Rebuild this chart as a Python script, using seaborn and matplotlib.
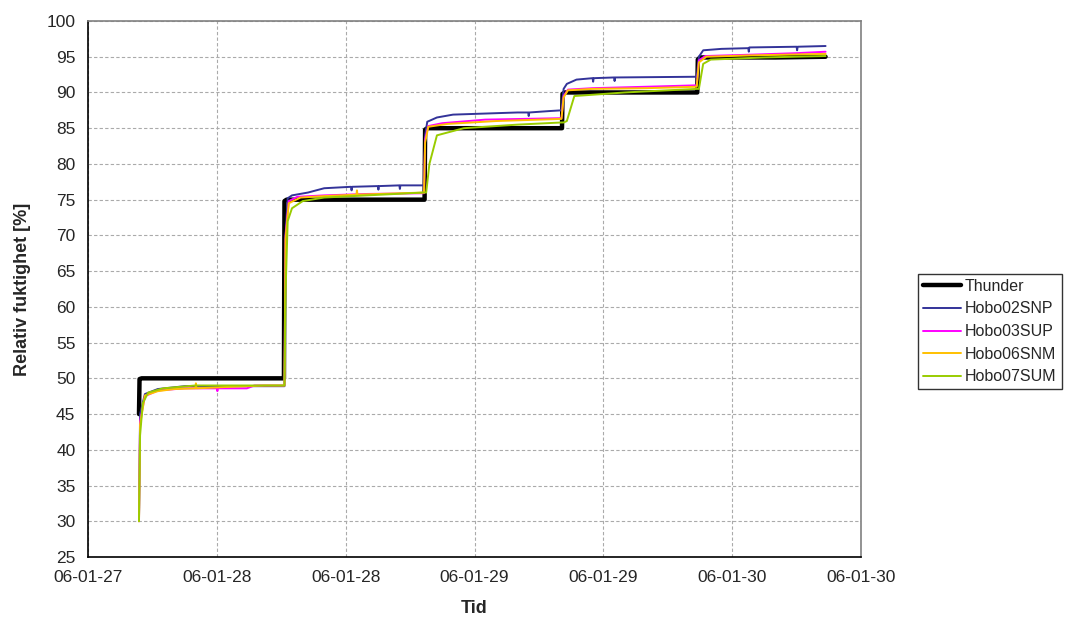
import numpy as np
import pandas as pd
import matplotlib
matplotlib.use('Agg')
import matplotlib.pyplot as plt
import seaborn as sns

# time in hours from 06-01-27 00:00
tick_hours = [0, 12, 24, 36, 48, 60, 72]
tick_labels = ['06-01-27', '06-01-28', '06-01-28', '06-01-29', '06-01-29', '06-01-30', '06-01-30']

thunder_t = [4.75, 4.8, 5.0, 18.25, 18.3, 18.5, 31.35, 31.4, 31.6, 44.15, 44.2, 44.4, 56.75, 56.8, 57.0, 64.0, 68.7]
thunder_v = [45.0, 49.9, 50.0, 50.0, 74.8, 75.0, 75.0, 84.8, 85.0, 85.0, 89.8, 90.0, 90.0, 94.6, 94.9, 94.9, 95.0]

hobo02_t = [4.75, 4.85, 5.3, 6.5, 9.0, 18.3, 18.4, 18.6, 19.0, 20.5, 22.0, 24.5, 24.55, 24.6, 27.0, 27.05, 27.1,
            29.0, 29.05, 29.1, 31.3, 31.4, 31.6, 32.5, 34.0, 36.0, 40.0, 41.0, 41.05, 41.1, 43.0, 44.1, 44.3, 44.6,
            45.5, 47.0, 47.05, 47.1, 49.0, 49.05, 49.1, 56.7, 56.9, 57.3, 59.0, 61.5, 61.55, 61.6, 66.0, 66.05, 66.1, 68.7]
hobo02_v = [30.5, 45.0, 47.8, 48.5, 48.9, 48.9, 70.0, 75.2, 75.6, 76.0, 76.6, 76.8, 76.3, 76.8, 76.9, 76.4, 76.9,
            77.0, 76.5, 77.0, 77.0, 84.0, 85.9, 86.5, 86.9, 87.0, 87.2, 87.2, 86.7, 87.2, 87.4, 87.5, 90.5, 91.2,
            91.8, 92.0, 91.5, 92.0, 92.1, 91.6, 92.1, 92.2, 95.0, 95.9, 96.1, 96.2, 95.7, 96.3, 96.4, 95.9, 96.4, 96.5]

hobo03_t = [4.75, 4.85, 5.3, 6.5, 9.0, 12.0, 12.05, 12.1, 14.8, 15.5, 18.3, 18.4, 18.7, 19.5, 22.0, 26.0, 31.3,
            31.4, 31.7, 33.0, 37.0, 44.1, 44.3, 44.7, 47.0, 52.0, 56.7, 56.9, 57.5, 62.0, 66.0, 68.7]
hobo03_v = [30.0, 44.0, 47.5, 48.3, 48.6, 48.6, 48.2, 48.6, 48.6, 49.0, 49.0, 70.0, 74.8, 75.4, 75.6, 75.8, 75.9,
            83.5, 85.3, 85.7, 86.2, 86.4, 89.5, 90.4, 90.6, 90.8, 91.0, 94.5, 95.1, 95.3, 95.5, 95.7]

hobo06_t = [4.75, 4.85, 5.3, 6.5, 8.0, 10.0, 10.05, 10.1, 13.0, 16.5, 18.3, 18.4, 18.7, 19.8, 22.0, 25.0, 25.05,
            25.1, 31.3, 31.4, 31.7, 33.5, 38.0, 44.1, 44.3, 44.7, 47.0, 52.0, 56.7, 56.9, 57.6, 62.0, 68.7]
hobo06_v = [30.0, 43.5, 47.6, 48.2, 48.5, 48.6, 49.3, 48.6, 48.8, 49.0, 49.0, 69.5, 74.5, 75.3, 75.5, 75.7, 76.3,
            75.7, 76.0, 83.0, 85.2, 85.6, 86.0, 86.3, 89.3, 90.3, 90.5, 90.6, 90.8, 94.2, 95.0, 95.2, 95.4]

hobo07_t = [4.75, 4.85, 5.1, 5.6, 7.0, 10.0, 18.3, 18.4, 18.6, 19.0, 20.0, 22.0, 26.0, 31.3, 31.5, 31.8, 32.5,
            35.0, 40.0, 44.1, 44.3, 44.6, 45.3, 50.0, 56.7, 56.9, 57.3, 58.0, 63.0, 68.7]
hobo07_v = [30.0, 42.0, 46.5, 48.0, 48.6, 49.0, 49.0, 62.0, 72.0, 73.8, 74.8, 75.3, 75.6, 76.0, 76.0, 80.0, 84.0,
            85.0, 85.5, 85.8, 85.8, 86.0, 89.5, 90.0, 90.5, 90.5, 94.0, 94.6, 94.9, 95.1]

series = [
    ('Thunder', thunder_t, thunder_v, '#000000', 3.2),
    ('Hobo02SNP', hobo02_t, hobo02_v, '#333399', 1.4),
    ('Hobo03SUP', hobo03_t, hobo03_v, '#FF00FF', 1.4),
    ('Hobo06SNM', hobo06_t, hobo06_v, '#FFC000', 1.4),
    ('Hobo07SUM', hobo07_t, hobo07_v, '#99CC00', 1.4),
]

sns.set_style('white')
plt.rcParams['font.family'] = ['Liberation Sans', 'DejaVu Sans']

fig = plt.figure(figsize=(10.67, 6.23), dpi=100)
ax = fig.add_axes([88 / 1067, 1 - 557 / 623, (861 - 88) / 1067, (557 - 21) / 623])

for name, t, v, color, lw in series:
    df = pd.DataFrame({'Tid': t, 'RF': v})
    sns.lineplot(data=df, x='Tid', y='RF', ax=ax, color=color, linewidth=lw,
                 sort=False, estimator=None, label=name)

ax.set_xlim(0, 72)
ax.set_ylim(25, 100)
ax.set_xticks(tick_hours)
ax.set_xticklabels(tick_labels)
ax.set_yticks(np.arange(25, 101, 5))
ax.tick_params(axis='both', labelsize=12.5, direction='out', length=5, width=1, color='black', pad=4)
ax.grid(True, linestyle=(0, (3, 2)), color='#aaaaaa', linewidth=0.8)
ax.set_axisbelow(True)

for side in ['left', 'bottom']:
    ax.spines[side].set_color('black')
    ax.spines[side].set_linewidth(1.2)
for side in ['top', 'right']:
    ax.spines[side].set_visible(True)
    ax.spines[side].set_color('#808080')
    ax.spines[side].set_linewidth(1.2)

ax.set_xlabel('Tid', fontsize=13, fontweight='bold', labelpad=11)
ax.set_ylabel('Relativ fuktighet [%]', fontsize=13, fontweight='bold', labelpad=11)

leg = ax.legend(loc='upper left', bbox_to_anchor=(918 / 1067, 1 - 274 / 623), bbox_transform=fig.transFigure,
                fontsize=11.5, frameon=True, fancybox=False, handlelength=2.4, handletextpad=0.25,
                borderpad=0.3, labelspacing=0.48, borderaxespad=0)
leg.get_frame().set_edgecolor('black')
leg.get_frame().set_linewidth(1.0)

plt.savefig('out.png', dpi=100)
plt.close()
